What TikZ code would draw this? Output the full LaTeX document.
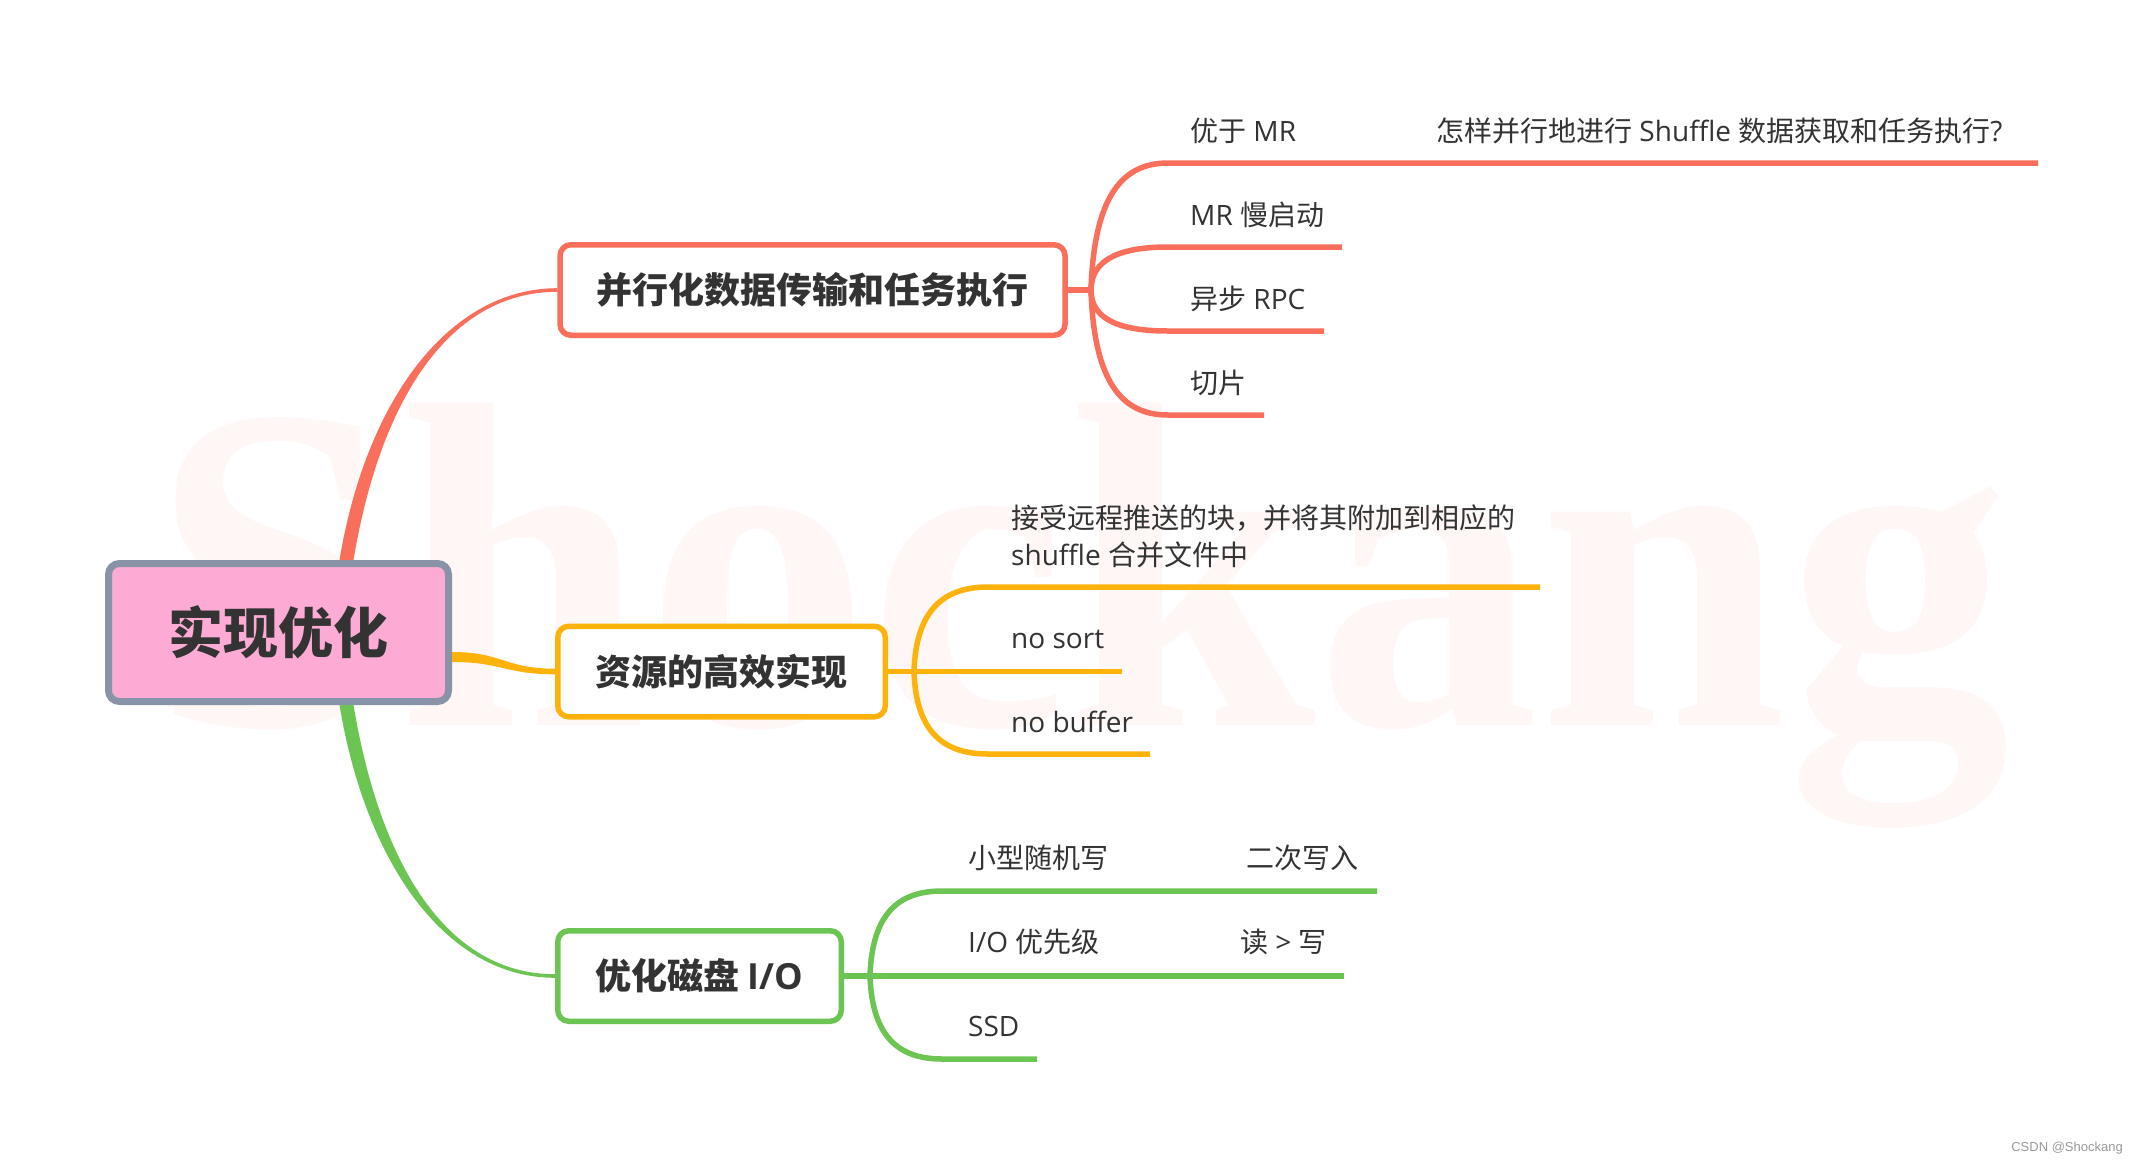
\documentclass[tikz,border=0pt]{standalone}
\usepackage{fontspec}
\setmainfont{Open Sans}
\newfontfamily\cjk{Noto Sans CJK SC}
\newfontfamily\wmfont{Liberation Serif}
\newfontfamily\tagfont{Liberation Sans}
\definecolor{mmred}{RGB}{250,110,92}
\definecolor{mmyellow}{RGB}{254,178,12}
\definecolor{mmgreen}{RGB}{108,196,82}
\definecolor{rootpink}{RGB}{253,170,212}
\definecolor{rootgray}{RGB}{137,147,167}
\definecolor{ink}{RGB}{51,51,51}
\definecolor{wmpink}{RGB}{255,246,246}
\begin{document}
\begin{tikzpicture}[x=1pt,y=-1pt,
  topic/.style={draw=#1,line width=5.5pt,rounded corners=11pt,fill=white,text=ink,
    font=\fontsize{36}{43}\selectfont\cjk\bfseries,minimum height=90.5pt,inner xsep=0pt},
  leaf/.style={anchor=base west,text=ink,inner sep=0pt,font=\fontsize{28}{37}\selectfont},
  twig/.style={draw=#1,line width=5.5pt}]
\fill[white] (0,0) rectangle (2138,1162);
\useasboundingbox (0,0) rectangle (2138,1162);
\node[anchor=base west,inner sep=0pt,text=wmpink,xscale=0.96,font=\fontsize{465}{465}\selectfont\wmfont\bfseries] (wm) at (150,725) {Shockang};
% root and main topics
\node[draw=rootgray,line width=7pt,fill=rootpink,rounded corners=11pt,minimum width=340pt,minimum height=138pt,
  text=ink,font=\fontsize{55}{66}\selectfont\cjk\bfseries] (root) at (278.5,632.5) {实现优化};
\node[topic=mmred,minimum width=505pt] (t1) at (812.5,290) {并行化数据传输和任务执行};
\node[topic=mmyellow,minimum width=327.5pt] (t2) at (721.5,671.5) {资源的高效实现};
\node[topic=mmgreen,minimum width=283.5pt] (t3) at (699.5,976) {优化磁盘 {\rmfamily I/O}};
\fill[mmred] ([xshift=61pt]root.north) .. controls +(27,-162) and +(-107,0) .. ([yshift=1.8pt]t1.west)
  -- ([yshift=-1.8pt]t1.west) .. controls +(-107,0) and +(27,-162) .. ([xshift=75pt]root.north) -- cycle;
\fill[mmyellow] ([yshift=-19.5pt]root.east) .. controls +(50,0) and +(-50,0) .. ([yshift=2.8pt]t2.west)
  -- ([yshift=-2.8pt]t2.west) .. controls +(-50,0) and +(50,0) .. ([yshift=-29.5pt]root.east) -- cycle;
\fill[mmgreen] ([xshift=61pt]root.south) .. controls +(27,162) and +(-107,0) .. ([yshift=-1.8pt]t3.west)
  -- ([yshift=1.8pt]t3.west) .. controls +(-107,0) and +(27,162) .. ([xshift=75pt]root.south) -- cycle;
% red branch
\coordinate (f1) at (1091,290);
\coordinate (a1) at (1168,163); \coordinate (a1e) at (2038,163);
\coordinate (a2) at (1168,247); \coordinate (a2e) at (1342,247);
\coordinate (a3) at (1168,331); \coordinate (a3e) at (1324,331);
\coordinate (a4) at (1168,415); \coordinate (a4e) at (1264,415);
\draw[twig=mmred] (t1.east) -- (f1);
\draw[twig=mmred] (f1) .. controls +(3,-95) and +(-45,0) .. (a1) -- (a1e);
\draw[twig=mmred] (f1) .. controls +(0,-32) and +(-45,0) .. (a2) -- (a2e);
\draw[twig=mmred] (f1) .. controls +(0,31) and +(-45,0) .. (a3) -- (a3e);
\draw[twig=mmred] (f1) .. controls +(3,94) and +(-45,0) .. (a4) -- (a4e);
\node[leaf] (la1) at (1190,141) {{\cjk 优于} MR};
\node[leaf] (la1q) at (1436,141) {{\cjk 怎样并行地进行} Shuffle {\cjk 数据获取和任务执行}?};
\node[leaf] (la2) at (1190,225) {MR {\cjk 慢启动}};
\node[leaf] (la3) at (1190,309) {{\cjk 异步} RPC};
\node[leaf] (la4) at (1190,393) {\cjk 切片};
% yellow branch
\coordinate (f2) at (914,671.5);
\coordinate (b1) at (988,587); \coordinate (b1e) at (1540,587);
\coordinate (b2e) at (1122,671.5);
\coordinate (b3) at (988,754); \coordinate (b3e) at (1150,754);
\draw[twig=mmyellow] (t2.east) -- (b2e);
\draw[twig=mmyellow] (f2) .. controls +(2,-63) and +(-43,0) .. (b1) -- (b1e);
\draw[twig=mmyellow] (f2) .. controls +(2,62) and +(-43,0) .. (b3) -- (b3e);
\node[leaf,align=left] (lb1) at (1011,565) {{\cjk 接受远程推送的块，并将其附加到相应的}\\shuffle {\cjk 合并文件中}};
\node[leaf] (lb2) at (1011,648) {no sort};
\node[leaf] (lb3) at (1011,732) {no buffer};
% green branch
\coordinate (f3) at (870,976);
\coordinate (c1) at (942,891); \coordinate (c1e) at (1377,891);
\coordinate (c2e) at (1344,976);
\coordinate (c3) at (942,1059); \coordinate (c3e) at (1037,1059);
\draw[twig=mmgreen] (t3.east) -- (c2e);
\draw[twig=mmgreen] (f3) .. controls +(2,-64) and +(-42,0) .. (c1) -- (c1e);
\draw[twig=mmgreen] (f3) .. controls +(2,62) and +(-42,0) .. (c3) -- (c3e);
\node[leaf] (lc1) at (968,868) {\cjk 小型随机写};
\node[leaf] (lc1b) at (1246,868) {\cjk 二次写入};
\node[leaf] (lc2) at (968,952) {I/O {\cjk 优先级}};
\node[leaf] (lc2b) at (1240,952) {{\cjk 读} > {\cjk 写}};
\node[leaf] (lc3) at (968,1036) {SSD};
\node[anchor=base east,inner sep=0pt,text=gray!80,font=\fontsize{13}{15}\selectfont\tagfont] (tag) at (2123,1151) {CSDN @Shockang};
\end{tikzpicture}
\end{document}
